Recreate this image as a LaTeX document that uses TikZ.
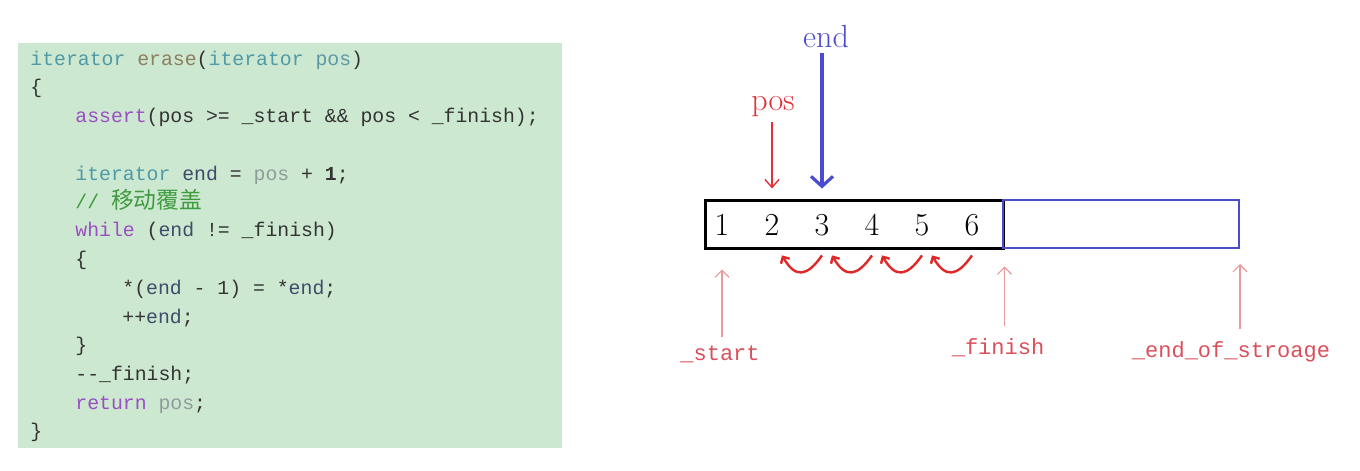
\documentclass[tikz,border=0pt]{standalone}
\usepackage{fontspec}
\setmonofont{Liberation Mono}
\newfontfamily\cjk{Noto Sans CJK SC}[Scale=1.15]
\usetikzlibrary{arrows.meta}
\definecolor{codebg}{HTML}{CDE8D0}
\definecolor{typec}{HTML}{4F9AA6}
\definecolor{funcc}{HTML}{8C7E5E}
\definecolor{parc}{HTML}{5E97A6}
\definecolor{kwc}{HTML}{9B4DC4}
\definecolor{varc}{HTML}{3B4C6B}
\definecolor{dimc}{HTML}{8E9C9C}
\definecolor{cmtc}{HTML}{3F9B3F}
\definecolor{plainc}{HTML}{333333}
\definecolor{ptrred}{HTML}{E0303A}
\definecolor{endblue}{HTML}{4B4BCF}
\definecolor{tagred}{HTML}{D9505C}
\definecolor{tagarr}{HTML}{E99A9A}
\definecolor{curlred}{HTML}{E02828}
\newcommand\ty[1]{\textcolor{typec}{#1}}
\newcommand\kw[1]{\textcolor{kwc}{#1}}
\newcommand\vr[1]{\textcolor{varc}{#1}}
\newcommand\dm[1]{\textcolor{dimc}{#1}}
\tikzset{
  code/.style={anchor=west, inner sep=0pt, text height=7pt, text depth=2pt,
    font=\ttfamily\fontsize{9.9}{12}\selectfont, text=plainc},
  cell/.style={inner sep=0pt, minimum height=24pt, font=\fontsize{16}{16}\selectfont},
  tag/.style={font=\ttfamily\fontsize{11}{13}\selectfont, text=tagred, inner sep=2pt},
  tagarrow/.style={draw=tagarr, line width=0.6pt, -{Straight Barb[length=3.5pt,width=7pt]}},
  curl/.style={draw=curlred, line width=1.2pt, -{Straight Barb[length=2.5pt,width=5pt]}}
}
\begin{document}
\begin{tikzpicture}[x=0.5pt, y=-0.5pt]
\useasboundingbox (0,0) rectangle (1360,471);
% code panel
\node[fill=codebg, inner sep=0pt, minimum width=272pt, minimum height=202.5pt] (codebox) at (290,245.5) {};
\node[code] (l1) at (30,60) {\ty{iterator} \textcolor{funcc}{erase}(\ty{iterator} \textcolor{parc}{pos})};
\node[code] (l2) at (30,88) {\{};
\node[code] (l3) at (75,117) {\kw{assert}(pos >= \_start \&\& pos < \_finish);};
\node[code] (l5) at (75,175) {\ty{iterator} \vr{end} = \dm{pos} + \textbf{1};};
\node[code, text=cmtc] (l6) at (75,203) {// {\cjk 移动覆盖}};
\node[code] (l7) at (75,231) {\kw{while} (\vr{end} != \_finish)};
\node[code] (l8) at (75,260) {\{};
\node[code] (l9) at (122,289) {*(\vr{end} - 1) = *\vr{end};};
\node[code] (l10) at (122,318) {++\vr{end};};
\node[code] (l11) at (75,346) {\}};
\node[code] (l12) at (75,375) {{-}{-}\_finish;};
\node[code] (l13) at (75,404) {\kw{return} \dm{pos};};
\node[code] (l14) at (30,432) {\}};
% array
\node[draw=black, line width=1.5pt, inner sep=0pt, minimum width=149pt, minimum height=24pt] (used) at (854,224) {};
\node[draw=endblue, line width=1pt, inner sep=0pt, minimum width=118pt, minimum height=24pt] (spare) at (1121,224) {};
\foreach \i in {1,...,6}
  \node[cell] (c\i) at (672+50*\i,225) {\i};
\foreach \i/\j in {2/3,3/4,4/5,5/6}
  \draw[curl] ([yshift=-3pt]c\j.south) to[out=235,in=-60,looseness=1.7] ([xshift=5pt,yshift=-3pt]c\i.south);
% pointers above
\node[text=ptrred, font=\fontsize{16}{16}\selectfont, inner sep=2pt] (pos) at (773,107) {pos};
\node[text=endblue, font=\fontsize{16}{16}\selectfont, inner sep=2pt] (endlbl) at (826,37) {end};
\draw[ptrred, line width=0.7pt, -{Straight Barb[length=4pt,width=7pt]}, shorten >=5pt] (c2 |- pos.south) -- (c2 |- used.north);
\draw[endblue, line width=1.6pt, -{Straight Barb[length=5pt,width=11pt]}, shorten >=5pt] (c3 |- endlbl.south) -- (c3 |- used.north);
% pointers below
\node[tag] (start) at (720,354) {\_start};
\node[tag] (finish) at (998,348) {\_finish};
\node[tag] (eos) at (1231,352) {\_end\_of\_stroage};
\draw[tagarrow, shorten <=2pt, shorten >=10pt] (c1 |- start.north) -- (c1 |- used.south);
\draw[tagarrow, shorten <=4pt, shorten >=8.5pt] (used.south east |- finish.north) -- (used.south east);
\draw[tagarrow, shorten <=4pt, shorten >=7.5pt] (spare.south east |- eos.north) -- (spare.south east);
\end{tikzpicture}
\end{document}
